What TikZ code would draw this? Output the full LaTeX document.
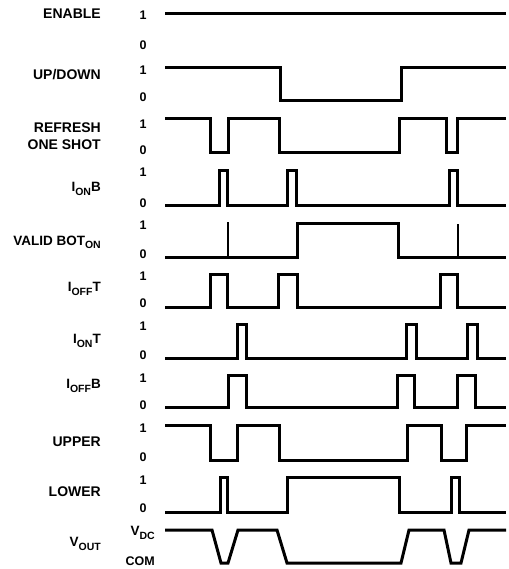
\documentclass[tikz,border=0pt]{standalone}
\usepackage{fontspec}
\setmainfont{Liberation Sans}
\newfontfamily\heavy{Liberation Sans Bold}
\newcommand\sbx[1]{\raisebox{-0.45ex}{\fontsize{10.5}{11}\selectfont #1}}
\begin{document}
\begin{tikzpicture}[x=1pt,y=-1pt,
  wave/.style={line width=3pt,line join=miter},
  lab/.style={anchor=east,inner sep=0pt,font=\heavy\fontsize{14}{17}\selectfont,align=right},
  slab/.style={anchor=east,inner sep=0pt,font=\heavy\fontsize{13.5}{15}\selectfont},
  lev/.style={anchor=center,inner sep=0pt,font=\heavy\fontsize{12.5}{13}\selectfont}]
\useasboundingbox (0,0) rectangle (508,569);
% labels
\node[lab] (en) at (101,14) {ENABLE};
\node[lab] (ud) at (101,75) {UP/DOWN};
\node[lab] (rf) at (101,136) {REFRESH\\ONE SHOT};
\node[slab] (ionb) at (101,189) {I\sbx{ON}B};
\node[slab] (vb) at (101,242) {VALID BOT\sbx{ON}};
\node[slab] (ifft) at (101,289) {I\sbx{OFF}T};
\node[slab] (iont) at (101,341) {I\sbx{ON}T};
\node[slab] (iffb) at (101,386) {I\sbx{OFF}B};
\node[lab] (up) at (101,442) {UPPER};
\node[lab] (lo) at (101,492) {LOWER};
\node[slab] (vo) at (101,544) {V\sbx{OUT}};
% levels
\foreach \n/\y/\t in {a1/15/1,a0/45/0,b1/70/1,b0/97/0,c1/124/1,c0/150/0,d1/172/1,d0/203/0,e1/225/1,e0/254/0,f1/276/1,f0/303/0,g1/326/1,g0/355/0,h1/378/1,h0/405/0,i1/428/1,i0/457/0,j1/480/1,j0/508/0}
  \node[lev] (\n) at (143,\y) {\t};
\node[slab,anchor=east] (vdc) at (155,533) {V\sbx{DC}};
\node[slab,anchor=east,font=\heavy\fontsize{12.5}{13}\selectfont] (com) at (155,561) {COM};
% waveforms
\draw[wave] (165,14) -- (506,14);
\draw[wave] (165,68) -- (280,68) -- (280,101) -- (401,101) -- (401,68) -- (506,68);
\draw[wave] (165,119) -- (210,119) -- (210,153) -- (228,153) -- (228,119) -- (279,119) -- (279,153) -- (399,153) -- (399,119) -- (446,119) -- (446,153) -- (457,153) -- (457,119) -- (506,119);
\draw[wave] (165,205) -- (219,205) -- (219,171) -- (227,171) -- (227,205) -- (287,205) -- (287,171) -- (296,171) -- (296,205) -- (449,205) -- (449,171) -- (457,171) -- (457,205) -- (506,205);
\draw[wave] (165,257) -- (297,257) -- (297,223) -- (398,223) -- (398,257) -- (506,257);
\fill (226.6,258) rectangle (229.4,222);
\fill (456.6,258) rectangle (459.4,224);
\draw[wave] (165,307) -- (210,307) -- (210,274) -- (227,274) -- (227,307) -- (278,307) -- (278,274) -- (297,274) -- (297,307) -- (440,307) -- (440,274) -- (457,274) -- (457,307) -- (506,307);
\draw[wave] (165,358) -- (237,358) -- (237,324) -- (246,324) -- (246,358) -- (406,358) -- (406,324) -- (416,324) -- (416,358) -- (467,358) -- (467,324) -- (477,324) -- (477,358) -- (506,358);
\draw[wave] (165,407) -- (228,407) -- (228,375) -- (246,375) -- (246,407) -- (397,407) -- (397,375) -- (414,375) -- (414,407) -- (457,407) -- (457,375) -- (475,375) -- (475,407) -- (506,407);
\draw[wave] (165,425) -- (210,425) -- (210,460) -- (237,460) -- (237,425) -- (279,425) -- (279,460) -- (407,460) -- (407,425) -- (441,425) -- (441,460) -- (466,460) -- (466,425) -- (506,425);
\draw[wave] (165,512) -- (220,512) -- (220,477) -- (227,477) -- (227,512) -- (287,512) -- (287,477) -- (399,477) -- (399,512) -- (451,512) -- (451,477) -- (459,477) -- (459,512) -- (506,512);
\draw[wave] (165,530) -- (212,530) -- (221,563) -- (228,563) -- (238,530) -- (277,530) -- (287,563) -- (401,563) -- (409,530) -- (444,530) -- (451,563) -- (461,563) -- (469,530) -- (506,530);
\end{tikzpicture}
\end{document}
